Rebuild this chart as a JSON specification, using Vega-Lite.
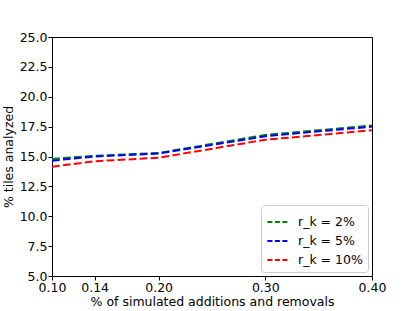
{
  "$schema": "https://vega.github.io/schema/vega-lite/v6.json",
  "width": 320,
  "height": 239,
  "autosize": {"type": "none"},
  "padding": {"left": 52, "top": 37, "right": 43, "bottom": 35},
  "background": "white",
  "config": {
    "font": "DejaVu Sans",
    "view": {"stroke": "black", "strokeWidth": 1},
    "axis": {
      "domainColor": "black",
      "tickColor": "black",
      "tickSize": 4,
      "labelFontSize": 12.5,
      "labelColor": "black",
      "titleFontSize": 12.5,
      "titleFontWeight": "normal",
      "titleColor": "black",
      "grid": false,
      "labelPadding": 1,
      "labelOverlap": false,
      "labelFlush": false
    }
  },
  "data": {
    "values": [
      {"series": "r_k = 2%", "x": 0.10, "y": 14.8},
      {"series": "r_k = 2%", "x": 0.14, "y": 15.05},
      {"series": "r_k = 2%", "x": 0.20, "y": 15.3},
      {"series": "r_k = 2%", "x": 0.30, "y": 16.8},
      {"series": "r_k = 2%", "x": 0.40, "y": 17.6},
      {"series": "r_k = 5%", "x": 0.10, "y": 14.65},
      {"series": "r_k = 5%", "x": 0.14, "y": 15.0},
      {"series": "r_k = 5%", "x": 0.20, "y": 15.25},
      {"series": "r_k = 5%", "x": 0.30, "y": 16.7},
      {"series": "r_k = 5%", "x": 0.40, "y": 17.5},
      {"series": "r_k = 10%", "x": 0.10, "y": 14.15},
      {"series": "r_k = 10%", "x": 0.14, "y": 14.6},
      {"series": "r_k = 10%", "x": 0.20, "y": 14.9},
      {"series": "r_k = 10%", "x": 0.30, "y": 16.4},
      {"series": "r_k = 10%", "x": 0.40, "y": 17.2}
    ]
  },
  "mark": {"type": "line", "strokeWidth": 2, "strokeDash": [7.7, 3.3]},
  "encoding": {
    "x": {
      "field": "x",
      "type": "quantitative",
      "scale": {"domain": [0.10, 0.40], "nice": false, "zero": false},
      "axis": {"values": [0.10, 0.14, 0.20, 0.30, 0.40], "format": ".2f", "title": "% of simulated additions and removals", "titlePadding": 2}
    },
    "y": {
      "field": "y",
      "type": "quantitative",
      "scale": {"domain": [5, 25], "nice": false, "zero": false},
      "axis": {"values": [5, 7.5, 10, 12.5, 15, 17.5, 20, 22.5, 25], "format": ".1f", "title": "% tiles analyzed", "titlePadding": 4}
    },
    "color": {
      "field": "series",
      "type": "nominal",
      "sort": ["r_k = 2%", "r_k = 5%", "r_k = 10%"],
      "scale": {"domain": ["r_k = 2%", "r_k = 5%", "r_k = 10%"], "range": ["#008000", "#0000ff", "#ff0000"]},
      "legend": {
        "title": null,
        "orient": "bottom-right",
        "offset": 4,
        "padding": 5,
        "symbolType": "stroke",
        "symbolStrokeWidth": 2,
        "symbolDash": [5, 2.5],
        "symbolSize": 450,
        "labelFontSize": 12.5,
        "labelColor": "black",
        "labelOffset": 8,
        "rowPadding": 0,
        "strokeColor": "#cccccc",
        "fillColor": "white",
        "cornerRadius": 3
      }
    },
    "order": {"field": "x", "type": "quantitative"}
  }
}
